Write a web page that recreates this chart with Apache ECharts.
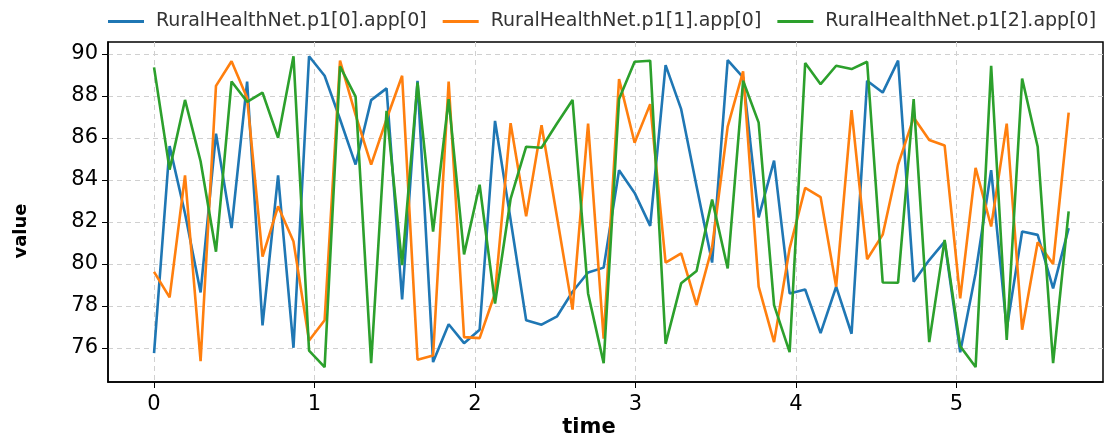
<!DOCTYPE html>
<html>
<head>
<meta charset="utf-8">
<script src="https://cdn.jsdelivr.net/npm/echarts@6/dist/echarts.min.js"></script>
<style>
  html, body { margin: 0; padding: 0; background: #fff; }
  #chart { width: 1109px; height: 439px; }
</style>
</head>
<body>
<div id="chart"></div>
<script>
// time stamps (x)
const time = [
  0, 0.097, 0.193, 0.290, 0.386, 0.483, 0.580, 0.676, 0.773, 0.869,
  0.966, 1.063, 1.159, 1.256, 1.353, 1.449, 1.546, 1.642, 1.739, 1.836,
  1.932, 2.029, 2.125, 2.222, 2.319, 2.415, 2.512, 2.608, 2.705, 2.802,
  2.898, 2.995, 3.092, 3.188, 3.285, 3.381, 3.478, 3.575, 3.671, 3.768,
  3.864, 3.961, 4.058, 4.154, 4.251, 4.347, 4.444, 4.541, 4.637, 4.734,
  4.831, 4.927, 5.024, 5.120, 5.217, 5.314, 5.410, 5.507, 5.603, 5.700
]

const seriesNames = [
  'RuralHealthNet.p1[0].app[0]',
  'RuralHealthNet.p1[1].app[0]',
  'RuralHealthNet.p1[2].app[0]'
]

const app0 = [
  75.75, 85.61, 82.4, 78.64, 86.2, 81.7, 88.68, 77.07, 84.21, 76.0,
  89.89, 88.96, 86.89, 84.73, 87.8, 88.36, 78.3, 88.72, 75.32, 77.12,
  76.22, 76.86, 86.81, 82.1, 77.31, 77.1, 77.5, 78.67, 79.59, 79.82,
  84.46, 83.38, 81.81, 89.47, 87.37, 83.7, 80.06, 89.71, 88.88, 82.21,
  84.92, 78.59, 78.78, 76.7, 78.91, 76.67, 88.72, 88.16, 89.68, 79.15,
  80.18, 81.06, 75.79, 79.55, 84.46, 76.91, 81.54, 81.38, 78.83, 81.7
]

const app1 = [
  79.62, 78.4, 84.21, 75.36, 88.48, 89.65, 87.9, 80.34, 82.74, 81.06,
  76.35, 77.31, 89.68, 87.1, 84.73, 86.89, 88.96, 75.43, 75.63, 88.69,
  76.51, 76.46, 78.6, 86.7, 82.26, 86.6, 82.2, 77.82, 86.68, 76.43,
  88.8, 85.77, 87.61, 80.06, 80.5, 78.03, 80.79, 86.54, 89.17, 78.91,
  76.27, 80.74, 83.62, 83.18, 78.91, 87.32, 80.22, 81.39, 84.73, 86.97,
  85.9, 85.64, 78.35, 84.57, 81.78, 86.68, 76.86, 81.03, 79.99, 87.21
]

const app2 = [
  89.36, 84.49, 87.81, 84.89, 80.58, 88.69, 87.72, 88.16, 86.01, 89.89,
  75.87, 75.08, 89.41, 87.97, 75.27, 87.29, 79.94, 88.64, 81.54, 87.85,
  80.45, 83.77, 78.11, 83.09, 85.58, 85.53, 86.7, 87.81, 78.59, 75.27,
  87.85, 89.63, 89.68, 76.19, 79.07, 79.66, 83.06, 79.78, 88.72, 86.73,
  78.03, 75.79, 89.57, 88.56, 89.44, 89.28, 89.63, 79.11, 79.1, 87.85,
  76.27, 81.14, 76.07, 75.08, 89.44, 76.38, 88.83, 85.58, 75.27, 82.5
]

const xTicks = [0, 1, 2, 3, 4, 5]
const yTicks = [76, 78, 80, 82, 84, 86, 88, 90]

const colors = ['#1f77b4', '#ff7f0e', '#2ca02c']
const font = 'DejaVu Sans'

const chart = echarts.init(document.getElementById('chart'))

const pairs = arr => arr.map((v, i) => [time[i], v])

const option = {
  animation: false,
  color: colors,
  textStyle: { fontFamily: font },
  legend: {
    top: 7,
    left: 103,
    icon: 'rect',
    itemWidth: 36,
    itemHeight: 3,
    itemGap: 16,
    textStyle: { fontFamily: font, fontSize: 19, color: '#333', padding: [0, 0, 0, 7] },
    data: seriesNames
  },
  grid: {
    left: 108,
    right: 6,
    top: 42,
    bottom: 57,
    show: true,
    borderColor: '#000',
    borderWidth: 1.5,
    containLabel: false
  },
  // axis titles (placed like the original, slightly off-centre)
  graphic: [
    {
      type: 'text',
      x: 21,
      y: 231,
      rotation: Math.PI / 2,
      style: {
        text: 'value',
        fontFamily: font,
        fontSize: 18,
        fontWeight: 'bold',
        fill: '#000',
        align: 'center',
        verticalAlign: 'middle'
      }
    },
    {
      type: 'text',
      x: 589,
      y: 428,
      style: {
        text: 'time',
        fontFamily: font,
        fontSize: 21,
        fontWeight: 'bold',
        fill: '#000',
        align: 'center',
        verticalAlign: 'middle'
      }
    }
  ],
  xAxis: {
    type: 'value',
    min: -0.287,
    max: 5.914,
    axisLine: { show: true, onZero: false, lineStyle: { color: '#000', width: 1.5 } },
    axisTick: { show: true, length: 6, customValues: xTicks, lineStyle: { color: '#000' } },
    axisLabel: { customValues: xTicks, margin: 12, fontSize: 21, color: '#000', fontFamily: font },
    splitLine: { show: true, lineStyle: { color: '#d0d0d0', type: [5, 4], width: 1 } }
  },
  yAxis: {
    type: 'value',
    min: 74.37,
    max: 90.57,
    axisLine: { show: true, onZero: false, lineStyle: { color: '#000', width: 1.5 } },
    axisTick: { show: true, length: 6, customValues: yTicks, lineStyle: { color: '#000' } },
    axisLabel: { customValues: yTicks, margin: 10, fontSize: 21, color: '#000', fontFamily: font },
    splitLine: { show: true, lineStyle: { color: '#d0d0d0', type: [5, 4], width: 1 } }
  },
  series: [app0, app1, app2].map((arr, i) => ({
    name: seriesNames[i],
    type: 'line',
    symbol: 'none',
    lineStyle: { width: 2.6 },
    data: pairs(arr)
  }))
}

chart.setOption(option)
</script>
</body>
</html>
